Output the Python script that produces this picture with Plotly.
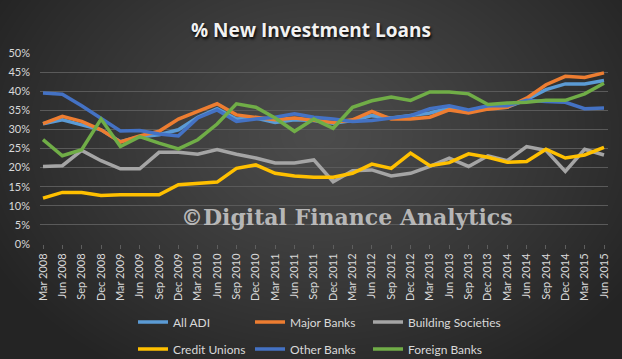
import base64
import struct
import zlib

import numpy as np
import plotly.graph_objects as go

# ---------------- data ----------------
quarters = [
    "Mar 2008", "Jun 2008", "Sep 2008", "Dec 2008",
    "Mar 2009", "Jun 2009", "Sep 2009", "Dec 2009",
    "Mar 2010", "Jun 2010", "Sep 2010", "Dec 2010",
    "Mar 2011", "Jun 2011", "Sep 2011", "Dec 2011",
    "Mar 2012", "Jun 2012", "Sep 2012", "Dec 2012",
    "Mar 2013", "Jun 2013", "Sep 2013", "Dec 2013",
    "Mar 2014", "Jun 2014", "Sep 2014", "Dec 2014",
    "Mar 2015", "Jun 2015",
]

all_adi = [31.5, 32.5, 31.2, 29.9, 26.8, 28.1, 28.6, 29.9, 33.2, 35.4,
           32.7, 33.0, 31.8, 32.5, 32.3, 31.6, 32.3, 33.6, 33.0, 33.6,
           34.3, 35.6, 34.7, 35.6, 35.8, 37.8, 40.4, 41.9, 41.9, 42.8]
major_banks = [31.5, 33.4, 32.1, 29.9, 26.7, 28.3, 29.5, 32.7, 34.7, 36.7,
               33.8, 33.2, 32.5, 33.0, 32.5, 31.8, 32.5, 34.7, 32.7, 32.7,
               33.2, 35.1, 34.3, 35.3, 35.8, 38.2, 41.7, 43.9, 43.6, 44.8]
building_societies = [20.3, 20.5, 24.5, 21.8, 19.7, 19.7, 24.0, 24.0, 23.5, 24.7,
                      23.5, 22.5, 21.2, 21.2, 22.0, 16.3, 19.2, 19.4, 17.8, 18.5,
                      20.3, 22.5, 20.3, 23.1, 21.8, 25.5, 24.5, 19.0, 24.8, 23.3]
credit_unions = [12.0, 13.5, 13.5, 12.7, 12.9, 12.8, 12.9, 15.5, 15.8, 16.2,
                 19.8, 20.7, 18.5, 17.8, 17.5, 17.5, 18.5, 20.9, 19.8, 23.8,
                 20.5, 21.3, 23.6, 22.7, 21.4, 21.6, 24.8, 22.5, 23.3, 25.3]
other_banks = [39.5, 39.2, 36.2, 33.0, 29.6, 29.7, 28.8, 28.3, 33.0, 35.1,
               32.1, 32.7, 33.2, 34.1, 33.2, 32.7, 32.1, 32.3, 33.0, 33.6,
               35.4, 36.2, 35.1, 36.2, 36.2, 37.6, 37.3, 37.1, 35.4, 35.6]
foreign_banks = [27.3, 23.1, 24.7, 32.7, 25.5, 28.1, 26.4, 24.9, 27.3, 31.4,
                 36.7, 35.8, 33.0, 29.5, 32.7, 30.3, 35.8, 37.5, 38.5, 37.6,
                 39.8, 39.8, 39.3, 36.5, 36.9, 37.1, 37.6, 37.6, 39.3, 42.1]

y_ticks = [0, 5, 10, 15, 20, 25, 30, 35, 40, 45, 50]

series_names = ["All ADI", "Major Banks", "Building Societies",
                "Credit Unions", "Other Banks", "Foreign Banks"]
series_values = [all_adi, major_banks, building_societies,
                 credit_unions, other_banks, foreign_banks]
series_colors = ["#5B9BD5", "#ED7D31", "#A5A5A5", "#FFC000", "#4472C4", "#70AD47"]

# ---------------- layout geometry ----------------
W, H = 622, 359
ML, MR, MT, MB = 40, 14, 53, 115
PW, PH = W - ML - MR, H - MT - MB
legend_cols_px = [133, 250, 368]
legend_rows_px = [322, 349]


def px_to_paper_x(px):
    return (px - ML) / PW


def px_to_paper_y(py):
    return (H - MB - py) / PH


# ---------------- radial gradient background (PNG) ----------------
def gray_png(arr):
    h, w = arr.shape
    raw = b"".join(b"\x00" + arr[r].tobytes() for r in range(h))

    def chunk(tag, data):
        c = struct.pack(">I", len(data)) + tag + data
        return c + struct.pack(">I", zlib.crc32(tag + data) & 0xFFFFFFFF)

    png = b"\x89PNG\r\n\x1a\n"
    png += chunk(b"IHDR", struct.pack(">IIBBBBB", w, h, 8, 0, 0, 0, 0))
    png += chunk(b"IDAT", zlib.compress(raw, 9))
    png += chunk(b"IEND", b"")
    return "data:image/png;base64," + base64.b64encode(png).decode()


yy, xx = np.mgrid[0:H, 0:W]
t = np.sqrt(((xx - 320) / (W * 0.60)) ** 2 + ((yy - 135) / (H * 0.78)) ** 2)
val = 76 - (76 - 36) * np.clip(t, 0, 1) ** 1.15
bg_img = gray_png(np.clip(val, 0, 255).astype(np.uint8))

# ---------------- figure ----------------
fig = go.Figure()
legend_layouts = {}
for i, (name, vals, color) in enumerate(zip(series_names, series_values, series_colors)):
    leg_id = "legend" if i == 0 else f"legend{i + 1}"
    fig.add_trace(go.Scatter(
        x=list(range(len(quarters))), y=vals, name=name, mode="lines",
        line=dict(color=color, width=3.5), legend=leg_id,
        hovertemplate="%{y:.1f}%<extra>" + name + "</extra>",
    ))
    legend_layouts[leg_id] = dict(
        orientation="h", xref="container", yref="container",
        x=legend_cols_px[i % 3] / W, y=1 - legend_rows_px[i // 3] / H,
        xanchor="left", yanchor="middle", bgcolor="rgba(0,0,0,0)",
        font=dict(family="Lato, Noto Sans, sans-serif", size=12, color="#d9d9d9"),
        itemwidth=30,
    )

tick_font = dict(family="Lato, Noto Sans, sans-serif", size=11, color="#d9d9d9")

fig.update_layout(
    width=W, height=H, autosize=False,
    margin=dict(l=ML, r=MR, t=MT, b=MB, pad=0, autoexpand=False),
    paper_bgcolor="#3a3a3a",
    plot_bgcolor="rgba(0,0,0,0)",
    title=dict(
        text="% New Investment Loans",
        x=0.5, xref="container", xanchor="center",
        y=1 - 30 / H, yref="container", yanchor="middle",
        font=dict(family="Open Sans, sans-serif", size=19, color="#f2f2f2",
                  weight="bold", shadow="1px 2px 3px #000000"),
    ),
    xaxis=dict(
        range=[-0.155, len(quarters) - 1 + 0.207],
        tickmode="array", tickvals=list(range(len(quarters))), ticktext=quarters,
        tickangle=-90, tickfont=tick_font, automargin=False,
        showgrid=False, zeroline=False,
        showline=False, ticks="outside", ticklen=4, tickcolor="#5e5e5e",
        fixedrange=True,
    ),
    yaxis=dict(
        range=[0, 50], tickmode="array", tickvals=y_ticks,
        ticktext=[f"{v}%" for v in y_ticks], tickfont=tick_font,
        showgrid=True, gridcolor="#5a5a5a", gridwidth=1, automargin=False,
        zeroline=False, ticks="", ticklabelstandoff=9,
        fixedrange=True,
    ),
    images=[dict(
        source=bg_img, xref="paper", yref="paper",
        x=-ML / PW, y=1 + MT / PH, sizex=W / PW, sizey=H / PH,
        xanchor="left", yanchor="top", sizing="stretch", layer="below",
    )],
    annotations=[dict(
        text="©Digital Finance Analytics",
        xref="paper", yref="paper",
        x=px_to_paper_x(347), y=px_to_paper_y(217),
        xanchor="center", yanchor="middle", showarrow=False,
        font=dict(family="DejaVu Serif, serif", size=22, weight="bold",
                  color="rgba(205,205,205,0.85)"),
    )],
    showlegend=True,
    **legend_layouts,
)

fig.write_html(
    "out.html",
    config={"displayModeBar": False},
    post_script="document.body.style.margin='0';document.body.style.overflow='hidden';",
)
